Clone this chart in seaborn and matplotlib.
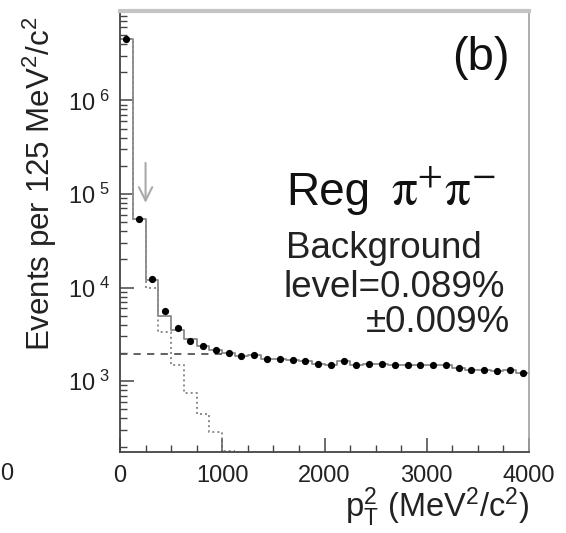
import numpy as np
import pandas as pd
import matplotlib
matplotlib.use("Agg")
import matplotlib.pyplot as plt
import seaborn as sns

# ---- data: events per 125 MeV^2/c^2 bin, pT^2 from 0 to 4000 ----
bin_edges = list(range(0, 4001, 125))
bin_centers = [e + 62.5 for e in bin_edges[:-1]]

data_counts = [4.5e6, 5.4e4, 12400, 5680, 3660, 2710, 2390, 2150,
               2000, 1845, 1880, 1745, 1730, 1700, 1635, 1540,
               1505, 1635, 1505, 1530, 1530, 1505, 1505, 1480,
               1480, 1505, 1385, 1330, 1330, 1275, 1300, 1225]

# total fit (signal + background), solid histogram
fit_total = [4.5e6, 5.4e4, 11900, 5010, 3520, 2790, 2390, 2150,
             2000, 1845, 1880, 1745, 1730, 1700, 1635, 1540,
             1505, 1635, 1505, 1530, 1530, 1505, 1505, 1480,
             1480, 1505, 1385, 1330, 1330, 1275, 1300, 1225]

# coherent signal simulation, dotted histogram (first 9 bins)
signal_edges = bin_edges[:10]
signal_centers = bin_centers[:9]
signal_counts = [4.5e6, 5.4e4, 10000, 3380, 1480, 738, 451, 286, 180]

background_level = 1950
background_range = [0, 1000]
cut_pt2 = 250

x_ticks = [0, 1000, 2000, 3000, 4000]
y_ticks = [1e3, 1e4, 1e5, 1e6]

# ---- style ----
sns.set_style("ticks")
plt.rcParams["font.family"] = ["Liberation Sans", "DejaVu Sans"]
plt.rcParams["mathtext.fontset"] = "custom"
plt.rcParams["mathtext.rm"] = "Liberation Sans"
plt.rcParams["mathtext.it"] = "Liberation Sans:italic"
plt.rcParams["mathtext.sf"] = "Liberation Sans"

W, H = 566, 533
fig = plt.figure(figsize=(W / 100, H / 100), dpi=100)
ax = fig.add_axes([120 / W, 1 - 452 / H, (529 - 120) / W, (452 - 11) / H])

def px(x, y):
    return x / W, 1 - y / H

fit_df = pd.DataFrame({"pt2": bin_centers, "n": fit_total})
sig_df = pd.DataFrame({"pt2": signal_centers, "n": signal_counts})
dat_df = pd.DataFrame({"pt2": bin_centers, "n": data_counts})

# solid total-fit histogram
sns.histplot(data=fit_df, x="pt2", weights="n", bins=bin_edges, element="step",
             fill=False, color="#8a8a8a", linewidth=1.3, ax=ax)
# dotted signal histogram
sns.histplot(data=sig_df, x="pt2", weights="n", bins=signal_edges,
             element="step", fill=False, color="#8a8a8a", linewidth=1.4,
             linestyle=(0, (1, 1.6)), ax=ax)
# dashed background level
bkg = pd.DataFrame({"x": background_range,
                    "y": [background_level, background_level]})
sns.lineplot(data=bkg, x="x", y="y", color="#555555", linewidth=1.3, ax=ax)
ax.lines[-1].set_dashes((4, 3.5))
# data points
sns.scatterplot(data=dat_df, x="pt2", y="n", color="black", s=27,
                edgecolor="black", linewidth=0, ax=ax, zorder=5)

# cut arrow
ax.annotate("", xy=(cut_pt2, 7.5e4), xytext=(cut_pt2, 2.3e5),
            arrowprops=dict(arrowstyle="->", color="#aaaaaa", lw=1.5,
                            mutation_scale=24))

ax.set_yscale("log")
ax.set_xlim(0, 4000)
ax.set_ylim(175, 9.0e6)
ax.set_xlabel("")
ax.set_ylabel("")

ax.set_xticks(x_ticks)
ax.set_xticklabels([str(t) for t in x_ticks])
ax.xaxis.set_minor_locator(matplotlib.ticker.MultipleLocator(250))
ax.set_yticks(y_ticks)
ax.set_yticklabels([r"10$\;^{%d}$" % int(np.log10(t)) for t in y_ticks])
ax.yaxis.set_minor_locator(matplotlib.ticker.LogLocator(base=10, subs=np.arange(2, 10)))
ax.yaxis.set_minor_formatter(matplotlib.ticker.NullFormatter())

ax.tick_params(axis="both", which="major", direction="in", length=10,
               width=1.1, color="#444444", labelsize=17, labelcolor="#222222")
ax.tick_params(axis="x", which="major", pad=9)
ax.tick_params(axis="y", which="major", pad=7)
ax.tick_params(axis="both", which="minor", direction="in", length=5,
               width=1.0, color="#444444")

for side in ["left", "bottom"]:
    ax.spines[side].set_color("#444444")
    ax.spines[side].set_linewidth(1.3)
ax.spines["top"].set_color("#c4c4c4")
ax.spines["top"].set_linewidth(3)
ax.spines["right"].set_color("#a0a0a0")
ax.spines["right"].set_linewidth(1.2)

# axis titles
fig.text(*px(40, 17), r"Events per 125 MeV$^{2}$/c$^{2}$", rotation=90,
         ha="center", va="top", fontsize=22.5, color="#222222")
fig.text(*px(529, 517), r"p$_{\mathrm{T}}^{2}$ (MeV$^{2}$/c$^{2}$)",
         ha="right", va="baseline", fontsize=23.5, color="#222222")

# annotations inside the frame
fig.text(*px(510, 58), "(b)", ha="right", va="center", fontsize=34,
         color="#111111")
fig.text(*px(286, 205), "Reg", ha="left", va="baseline", fontsize=33,
         color="#111111")
fig.text(*px(391, 205), r"$\mathrm{\pi}^{+}\mathrm{\pi}^{-}$",
         ha="left", va="baseline", fontsize=37, color="#111111",
         math_fontfamily="stix")
fig.text(*px(286, 258), "Background", ha="left", va="baseline",
         fontsize=26.5, color="#222222")
fig.text(*px(284, 297), "level=0.089%", ha="left", va="baseline",
         fontsize=26.5, color="#222222")
fig.text(*px(510, 332), "\u00b10.009%", ha="right", va="baseline",
         fontsize=26.5, color="#222222")

# tick label of the neighbouring panel at the left edge
fig.text(*px(0.5, 474), "0", ha="left", va="center", fontsize=17,
         color="#222222")

fig.savefig("out.png", dpi=100)
